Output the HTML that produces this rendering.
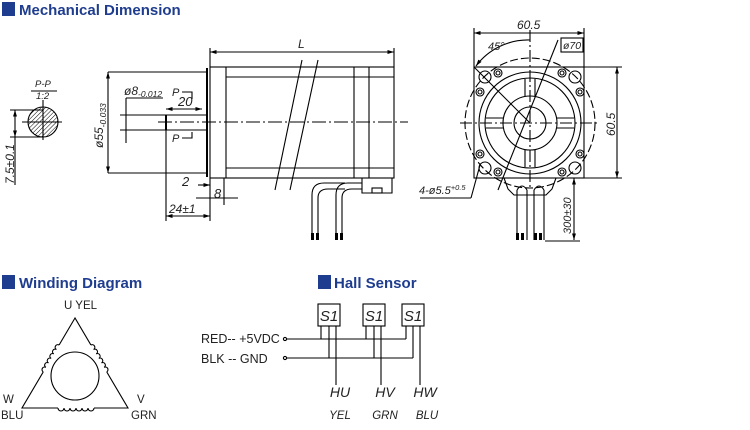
<!DOCTYPE html>
<html><head><meta charset="utf-8"><style>
body{margin:0;background:#fff;width:750px;height:430px;overflow:hidden}
svg{display:block}
.h{font-family:"Liberation Sans",sans-serif;font-weight:bold;font-size:15px;fill:#1f3d8f}
.t{font-family:"Liberation Sans",sans-serif;font-style:italic;font-size:11px;fill:#222}
.n{font-family:"Liberation Sans",sans-serif;font-size:11.5px;fill:#222}
</style></head><body>
<svg width="750" height="430" viewBox="0 0 750 430" xmlns="http://www.w3.org/2000/svg">
<defs>
<pattern id="hat" width="3" height="3" patternUnits="userSpaceOnUse" patternTransform="rotate(45)"><line x1="0" y1="0" x2="0" y2="3" stroke="#000" stroke-width="1"/></pattern>
<marker id="a" viewBox="0 0 10 10" refX="10" refY="5" markerWidth="6" markerHeight="6" orient="auto-start-reverse"><path d="M0,2L10,5L0,8z" fill="#000"/></marker>
</defs>
<rect x="2" y="2" width="13" height="14" fill="#1f3d8f"/><text class="h" x="19" y="15">Mechanical Dimension</text>
<rect x="2" y="275" width="13" height="14" fill="#1f3d8f"/><text class="h" x="19" y="288">Winding Diagram</text>
<rect x="318" y="275" width="13" height="14" fill="#1f3d8f"/><text class="h" x="334" y="288">Hall Sensor</text>

<g stroke="#000" stroke-width="1.1" fill="none">
<circle cx="43" cy="122" r="15" fill="url(#hat)"/>
<line x1="22" y1="122" x2="62" y2="122"/><line x1="43" y1="100" x2="43" y2="140"/>
<line x1="31" y1="91" x2="57" y2="91"/>
<line x1="10" y1="110" x2="43" y2="110"/><line x1="10" y1="137" x2="43" y2="137"/>
<line x1="15" y1="110" x2="15" y2="137" marker-start="url(#a)" marker-end="url(#a)"/>
<line x1="15" y1="137" x2="15" y2="185"/>

<rect x="210" y="67" width="184" height="111"/>
<line x1="207" y1="68" x2="207" y2="177" stroke-width="2"/>
<line x1="226" y1="67" x2="226" y2="178"/><line x1="354" y1="67" x2="354" y2="178"/><line x1="369" y1="67" x2="369" y2="178"/>
<line x1="226" y1="77" x2="394" y2="77"/><line x1="226" y1="168" x2="394" y2="168"/>
<line x1="302" y1="60" x2="275" y2="190"/><line x1="318" y1="60" x2="290" y2="190"/>
<line x1="158" y1="122" x2="408" y2="122" stroke-dasharray="14,3,2,3"/>
<line x1="210" y1="48" x2="210" y2="67"/><line x1="394" y1="48" x2="394" y2="67"/>
<line x1="210" y1="52" x2="394" y2="52" marker-start="url(#a)" marker-end="url(#a)"/>
<line x1="166" y1="115" x2="207" y2="115"/><line x1="166" y1="130" x2="207" y2="130"/>
<line x1="166" y1="115" x2="166" y2="130" stroke-width="2"/>
<line x1="108" y1="72" x2="207" y2="72"/><line x1="108" y1="173" x2="207" y2="173"/>
<line x1="108" y1="72" x2="108" y2="173" marker-start="url(#a)" marker-end="url(#a)"/>
<line x1="120" y1="115" x2="166" y2="115"/><line x1="120" y1="130" x2="166" y2="130"/>
<line x1="126" y1="98" x2="126" y2="143"/><line x1="126" y1="98" x2="163" y2="98"/>
<line x1="166" y1="109" x2="202" y2="109" marker-start="url(#a)" marker-end="url(#a)"/>
<polyline points="182,92 192,92 192,99"/><polyline points="182,138 192,138 192,132"/>
<line x1="166" y1="130" x2="166" y2="221"/><line x1="210" y1="178" x2="210" y2="221"/>
<line x1="224" y1="178" x2="224" y2="205"/>
<line x1="198" y1="185" x2="210" y2="185" marker-end="url(#a)"/>
<line x1="196" y1="198" x2="238" y2="198"/>
<line x1="166" y1="216" x2="210" y2="216" marker-start="url(#a)" marker-end="url(#a)"/>
<path d="M362,178 V193 H392 V178"/><rect x="372" y="188" width="10" height="5"/>
<path d="M312,233 V195 Q312,183 324,183 H345"/><path d="M318,233 V198 Q318,189 328,189 H345"/>
<path d="M336,233 V195 Q336,183 348,183 H362"/><path d="M342,233 V198 Q342,189 352,189 H362"/>

<rect x="474" y="67" width="110" height="111"/>
<circle cx="530" cy="123" r="65" stroke-dasharray="8,3"/>
<circle cx="530" cy="123" r="51"/><circle cx="530" cy="123" r="45"/>
<circle cx="530" cy="123" r="27"/>
<circle cx="530" cy="123" r="16"/>
<line x1="460" y1="123" x2="600" y2="123" stroke-dasharray="12,3,2,3"/>
<line x1="530" y1="30" x2="530" y2="190" stroke-dasharray="12,3,2,3"/>
<path d="M525,79 V96 M535,79 V96 M525,150 V167 M535,150 V167 M486,118 H503 M486,128 H503 M557,118 H574 M557,128 H574"/>
<g><circle cx="485" cy="77" r="6"/><circle cx="575" cy="77" r="6"/><circle cx="485" cy="168" r="6"/><circle cx="575" cy="168" r="6"/></g>
<g><circle cx="498" cy="73" r="4"/><circle cx="498" cy="73" r="2"/><circle cx="562" cy="73" r="4"/><circle cx="562" cy="73" r="2"/>
<circle cx="480" cy="92" r="4"/><circle cx="480" cy="92" r="2"/><circle cx="580" cy="92" r="4"/><circle cx="580" cy="92" r="2"/>
<circle cx="480" cy="154" r="4"/><circle cx="480" cy="154" r="2"/><circle cx="580" cy="154" r="4"/><circle cx="580" cy="154" r="2"/>
<circle cx="498" cy="172" r="4"/><circle cx="498" cy="172" r="2"/><circle cx="562" cy="172" r="4"/><circle cx="562" cy="172" r="2"/></g>
<line x1="474" y1="67" x2="530" y2="123"/>
<line x1="558" y1="40" x2="498" y2="190"/>
<path d="M476,66 A65,65 0 0 1 530,40" marker-start="url(#a)"/>
<line x1="474" y1="28" x2="474" y2="67"/><line x1="584" y1="28" x2="584" y2="67"/>
<line x1="474" y1="33" x2="584" y2="33" marker-start="url(#a)" marker-end="url(#a)"/>
<rect x="561" y="38" width="22" height="14"/>
<line x1="584" y1="67" x2="622" y2="67"/><line x1="584" y1="178" x2="622" y2="178"/>
<line x1="617" y1="67" x2="617" y2="178" marker-start="url(#a)" marker-end="url(#a)"/>
<line x1="480" y1="165" x2="471" y2="198"/><line x1="420" y1="198" x2="471" y2="198"/>
<path d="M504,178 L508,189 L514,195 H546 L552,189 L556,178"/>
<path d="M517,190 V240 M527,190 V240 M534,190 V240 M544,190 V240"/>
<path d="M517,190 Q522,182 527,190 M534,190 Q539,182 544,190"/>
<line x1="574" y1="178" x2="574" y2="240" marker-start="url(#a)" marker-end="url(#a)"/>
<line x1="545" y1="241" x2="580" y2="241"/>

<path d="M75,318 L22,408 L128,408 Z"/>
<circle cx="75" cy="376" r="24"/>
</g>
<g fill="#000"><rect x="311" y="233" width="3" height="7"/><rect x="316" y="233" width="3" height="7"/><rect x="335" y="233" width="3" height="7"/><rect x="340" y="233" width="3" height="7"/>
<rect x="516" y="233" width="3" height="7"/><rect x="521" y="233" width="3" height="7"/><rect x="534" y="233" width="3" height="7"/><rect x="539" y="233" width="3" height="7"/></g>
<!-- coils -->
<g stroke="#fff" stroke-width="2.5">
<line x1="58" y1="408" x2="94" y2="408"/>
<line x1="59.1" y1="345" x2="43.3" y2="372"/>
<line x1="90.9" y1="345" x2="106.7" y2="372"/>
</g>
<g stroke="#000" fill="none" stroke-width="1.1">
<path d="M58,408 a3,3 0 0 0 6,0 a3,3 0 0 0 6,0 a3,3 0 0 0 6,0 a3,3 0 0 0 6,0 a3,3 0 0 0 6,0 a3,3 0 0 0 6,0"/>
<path transform="translate(59.1,345) rotate(120.5)" d="M0,0 a2.6,2.6 0 0 0 5.2,0 a2.6,2.6 0 0 0 5.2,0 a2.6,2.6 0 0 0 5.2,0 a2.6,2.6 0 0 0 5.2,0 a2.6,2.6 0 0 0 5.2,0 a2.6,2.6 0 0 0 5.2,0"/>
<path transform="translate(90.9,345) rotate(59.5)" d="M0,0 a2.6,2.6 0 0 1 5.2,0 a2.6,2.6 0 0 1 5.2,0 a2.6,2.6 0 0 1 5.2,0 a2.6,2.6 0 0 1 5.2,0 a2.6,2.6 0 0 1 5.2,0 a2.6,2.6 0 0 1 5.2,0"/>
</g>
<g stroke="#000" fill="none" stroke-width="1.1">
<rect x="318" y="304" width="22" height="22"/><rect x="363" y="304" width="22" height="22"/><rect x="402" y="304" width="22" height="22"/>
<line x1="287" y1="339" x2="406" y2="339"/><line x1="287" y1="358" x2="413" y2="358"/>
<circle cx="285" cy="339" r="1.6"/><circle cx="285" cy="358" r="1.6"/>
<path d="M321,326 V339 M329,326 V358 M336,326 V385 M366,326 V339 M374,326 V358 M381,326 V385 M406,326 V339 M413,326 V358 M420,326 V385"/>
</g>
<g font-family="Liberation Sans,sans-serif" font-style="italic" font-size="15" fill="#222" text-anchor="middle">
<text x="329" y="321">S1</text><text x="374" y="321">S1</text><text x="413" y="321">S1</text>
<text x="340" y="397" font-size="14">HU</text><text x="385" y="397" font-size="14">HV</text><text x="425" y="397" font-size="14">HW</text>
<text x="340" y="419" font-size="11.5">YEL</text><text x="385" y="419" font-size="11.5">GRN</text><text x="427" y="419" font-size="11.5">BLU</text>
</g>
<g class="n"><text x="201" y="343" font-size="12.5">RED-- +5VDC</text><text x="201" y="363" font-size="12.5">BLK -- GND</text>
<text x="64" y="309">U YEL</text><text x="3" y="403">W</text><text x="1" y="419">BLU</text><text x="137" y="403">V</text><text x="131" y="419">GRN</text></g>
<g class="t">
<text x="35" y="87" font-size="9.5">P-P</text><text x="36" y="99" font-size="9.5">1:2</text>
<text transform="translate(14,184) rotate(-90)" font-size="12">7.5±0.1</text>
<text transform="translate(103,148) rotate(-90)" font-size="12">ø55<tspan font-size="8.5" dy="3">-0.033</tspan></text>
<text x="124" y="95" font-size="12">ø8<tspan font-size="8.5" dy="2">-0.012</tspan></text>
<text x="172" y="96">P</text><text x="172" y="142">P</text>
<text x="178" y="106" font-size="13">20</text>
<text x="298" y="48" font-size="12">L</text>
<text x="182" y="186" font-size="13">2</text><text x="214" y="198" font-size="13">8</text>
<text x="169" y="213" font-size="12">24±1</text>
<text x="517" y="29" font-size="12">60.5</text>
<text x="488" y="50" font-size="11">45°</text>
<text x="563" y="49" font-size="10.5">ø70</text>
<text transform="translate(615,136) rotate(-90)" font-size="12">60.5</text>
<text x="419" y="194" font-size="11">4-ø5.5<tspan font-size="7.5" dy="-4">+0.5</tspan></text>
<text transform="translate(571,234) rotate(-90)" font-size="11">300±30</text>
</g>
</svg>
</body></html>
